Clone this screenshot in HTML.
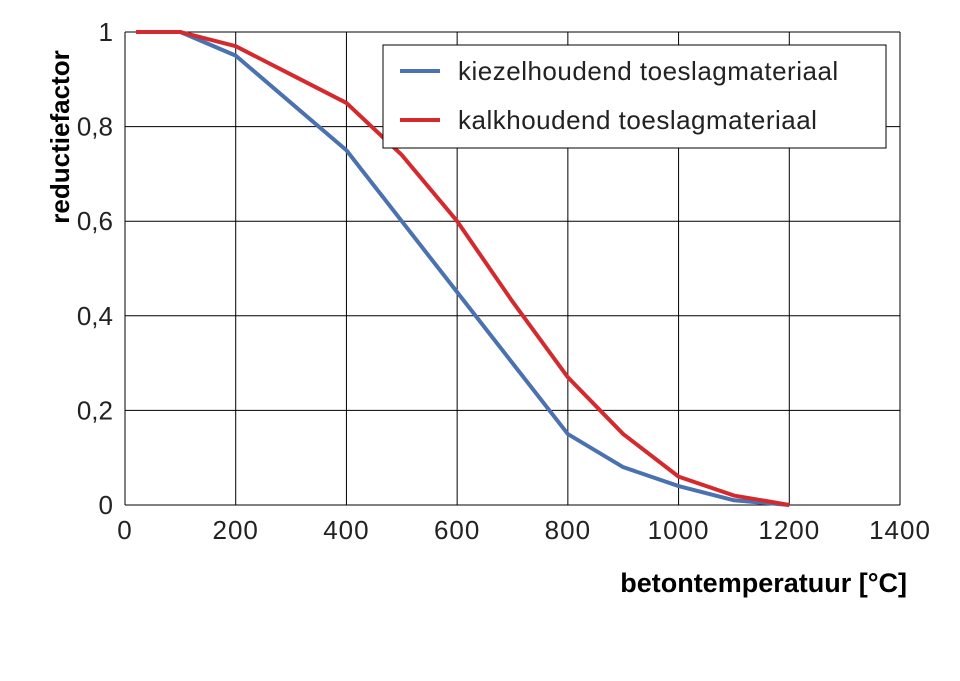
<!DOCTYPE html>
<html><head><meta charset="utf-8"><style>
html,body{margin:0;padding:0;background:#fff;}
svg{display:block;font-family:"Liberation Sans","DejaVu Sans",sans-serif;}
</style></head><body>
<svg id="chart" width="960" height="681"></svg>
<script>
const xTicks=[0,200,400,600,800,1000,1200,1400];
const yTicks=[0,0.2,0.4,0.6,0.8,1];
const yTickLabels=["0","0,2","0,4","0,6","0,8","1"];
const temps=[20,100,200,300,400,500,600,700,800,900,1000,1100,1200];
const siliceous=[1,1,0.95,0.85,0.75,0.6,0.45,0.3,0.15,0.08,0.04,0.01,0];
const calcareous=[1,1,0.97,0.91,0.85,0.74,0.6,0.43,0.27,0.15,0.06,0.02,0];
const NS="http://www.w3.org/2000/svg";
const svg=document.getElementById('chart');
const X0=125,X1=900,Y0=505,Y1=32;
const sx=v=>X0+(v/1400)*(X1-X0);
const sy=v=>Y0-v*(Y0-Y1);
function mk(t,a,p){const e=document.createElementNS(NS,t);for(const k in a)e.setAttribute(k,a[k]);(p||svg).appendChild(e);return e;}
const grid=mk('g',{});


xTicks.forEach(v=>{mk('line',{x1:sx(v),x2:sx(v),y1:Y1,y2:Y0,stroke:'#000','stroke-width':1},grid);});
yTicks.forEach(v=>{mk('line',{x1:X0,x2:X1,y1:sy(v),y2:sy(v),stroke:'#000','stroke-width':1},grid);});
xTicks.forEach(v=>{const t=mk('text',{x:sx(v),y:539,'text-anchor':'middle','font-size':26,fill:'#222','letter-spacing':1});t.textContent=v;

});
yTicks.forEach((v,i)=>{const t=mk('text',{x:113,y:sy(v)+9,'text-anchor':'end','font-size':26,fill:'#222'});t.textContent=yTickLabels[i];

});
function series(vals,color,name){const d=temps.map((t,i)=>(i?'L':'M')+sx(t)+','+sy(vals[i])).join(' ');
const p=mk('path',{d:d,fill:'none',stroke:color,'stroke-width':4,'stroke-linejoin':'round'});

}
series(siliceous,'#4a72b0','line-kiezelhoudend');
series(calcareous,'#d42a2e','line-kalkhoudend');
const lg=mk('g',{});


mk('rect',{x:383,y:45,width:503,height:103,fill:'#fff',stroke:'#000','stroke-width':1},lg);
mk('line',{x1:400,x2:440,y1:71,y2:71,stroke:'#4a72b0','stroke-width':4},lg);
mk('line',{x1:400,x2:440,y1:120,y2:120,stroke:'#d42a2e','stroke-width':4},lg);
let t1=mk('text',{x:458,y:80,'font-size':26,fill:'#222','letter-spacing':0.5},lg);t1.textContent='kiezelhoudend toeslagmateriaal';


let t2=mk('text',{x:458,y:129,'font-size':26,fill:'#222','letter-spacing':0.5},lg);t2.textContent='kalkhoudend toeslagmateriaal';


let yt=mk('text',{x:0,y:0,'font-size':26,'font-weight':'bold',fill:'#000','text-anchor':'middle',transform:'translate(69,137) rotate(-90)'});yt.textContent='reductiefactor';


let xt=mk('text',{x:907,y:592,'font-size':27,'font-weight':'bold',fill:'#000','text-anchor':'end'});xt.textContent='betontemperatuur [°C]';


</script>
</body></html>
